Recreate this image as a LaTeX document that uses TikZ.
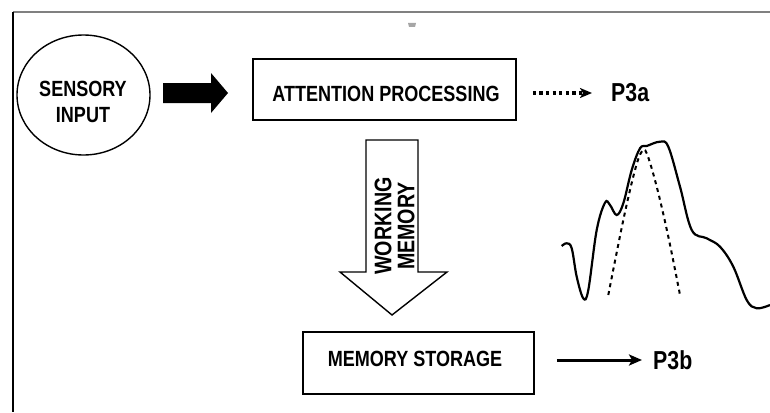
\documentclass[tikz,border=0pt]{standalone}
\usepackage{fontspec}
\setmainfont{Liberation Sans}[FakeStretch=0.82]
\usetikzlibrary{arrows.meta,calc,positioning,shapes.geometric}

\begin{document}
\begin{tikzpicture}[x=1pt,y=-1pt,
		lbl/.style={font=\bfseries\fontsize{22}{26}\selectfont,inner sep=0pt},
		stage/.style={draw,line width=1.5pt,inner sep=0pt}]
			\useasboundingbox (0,0) rectangle (770,412);
			\draw[gray,line width=1.4pt] (13,12) -- (770,12);
			\draw[line width=1.3pt] (13,12) -- (13,412);
			\fill[gray!70] (408,23) -- (416,23) -- (415,27) -- (409,27) -- cycle;

			\node[ellipse,draw,line width=1.4pt,minimum width=133pt,minimum height=120pt,inner sep=0pt] (input) at (83.5,95) {};
			\node[lbl,align=center] (inputtxt) at (83,101.5) {SENSORY\\INPUT};

			\node[stage,minimum width=263pt,minimum height=61pt] (attn) at (384.5,89.5) {};
			\node[lbl] (attntxt) at (386,94) {ATTENTION PROCESSING};

			\node[stage,minimum width=231pt,minimum height=62pt] (store) at (418.5,363) {};
			\node[lbl] (storetxt) at (415,359) {MEMORY STORAGE};

			\node[lbl,font=\bfseries\fontsize{26}{30}\selectfont,anchor=west] (p3a) at (611,93) {P3a};
			\node[lbl,font=\bfseries\fontsize{26}{30}\selectfont,anchor=west] (p3b) at (653,360) {P3b};

			\fill (163,83) -- (211,83) -- (211,73) -- (228,93) -- (211,113) -- (211,103) -- (163,103) -- cycle;
			\draw[line width=1.4pt,line join=miter] (366,140) -- (418,140) -- (418,272) -- (447,272) -- (392,315) -- (340,272) -- (366,272) -- cycle;
			\node[lbl,font=\bfseries\fontsize{24}{23}\selectfont,rotate=90,align=center] (wmtxt) at (394.5,226) {WORKING\\MEMORY};

			\draw[line width=3.2pt,dash pattern=on 3.2pt off 3.4pt,-{Stealth[length=12pt,width=10pt,inset=3pt]}] ($(attn.east|-p3a.west)+(16,0)$) -- ([xshift=-19pt]p3a.west);
			\draw[line width=3pt,-{Stealth[length=13pt,width=11pt,inset=3pt]}] ($(store.east|-p3b.west)+(22,0)$) -- ([xshift=-11pt]p3b.west);

			\draw[line width=2.2pt] plot[smooth,tension=0.6] coordinates {(561.7,246) (566.7,243.3) (571.7,248.3) (576.7,276.7) (583.3,298.3) (588.3,290) (596.7,230) (605,202.7) (610,205) (616.7,215) (623.3,203.3) (631.7,170) (640,148.3) (646.7,146) (660,141.7) (668.3,146.7) (680,186.7) (691.7,230) (706.7,238.3) (720,246.7) (733.3,266.7) (746.7,300) (756.7,308.3) (770,305)};
			\draw[line width=2pt,dash pattern=on 4pt off 4pt] plot[smooth,tension=0.6] coordinates {(608.3,295) (623.3,220) (635,170) (641.7,151.7) (646.7,153.3) (656.7,186.7) (668.3,236.7) (680,295)};

		\end{tikzpicture}
\end{document}
